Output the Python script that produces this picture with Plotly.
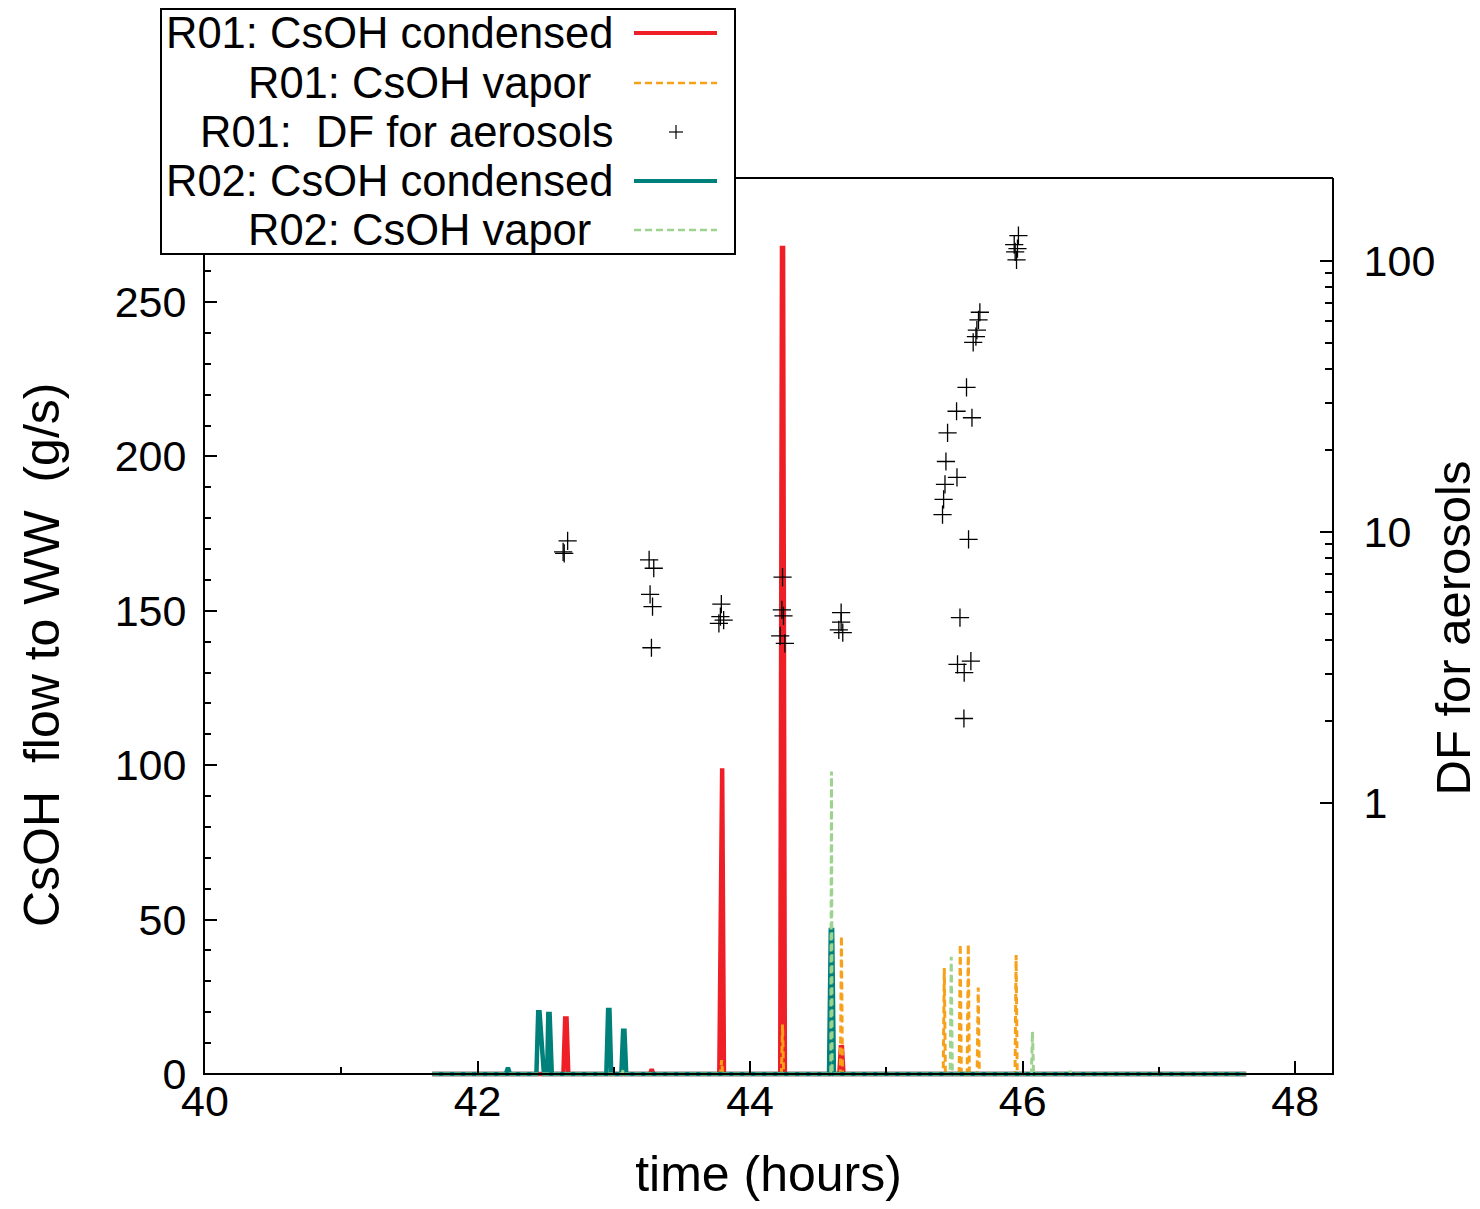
import plotly.graph_objects as go

# ---------------- data ----------------
# R01: CsOH condensed flow to WW (g/s)
r01_cond_t = [41.667, 42.630, 42.643, 42.653, 42.666, 43.266, 43.278, 43.290,
              43.774, 43.787, 43.795, 43.808, 44.221, 44.234, 44.242, 44.255,
              44.655, 44.666, 44.674, 44.685, 47.640]
r01_cond_v = [0, 0, 18, 18, 0, 0, 1.5, 0,
              0, 99, 99, 0, 0, 267.5, 267.5, 0,
              0, 8.7, 8.7, 0, 0]

# R01: CsOH vapor flow to WW (g/s)
r01_vap_t = [41.667, 43.783, 43.791, 43.799, 44.230, 44.238, 44.246,
             44.662, 44.670, 44.678, 45.417, 45.425, 45.433, 45.534, 45.542, 45.550,
             45.593, 45.601, 45.609, 45.666, 45.674, 45.682, 45.944, 45.952, 45.960, 47.640]
r01_vap_v = [0, 0, 4.5, 0, 0, 16, 0,
             0, 44.7, 0, 0, 34.3, 0, 0, 42, 0,
             0, 42, 0, 0, 28, 0, 0, 38.5, 0, 0]

# R01: DF for aerosols (-)
df_t = [42.661, 42.636, 42.628, 43.259, 43.293, 43.266, 43.284, 43.276,
        43.789, 43.782, 43.806, 43.771, 44.238, 44.233, 44.245, 44.221, 44.255,
        44.668, 44.668, 44.651, 44.680,
        45.969, 45.938, 45.962, 45.945, 45.955,
        45.686, 45.676, 45.664, 45.657, 45.637,
        45.588, 45.515, 45.628, 45.449, 45.437, 45.518, 45.430, 45.420, 45.412,
        45.603, 45.540, 45.522, 45.620, 45.571, 45.569]
df_v = [9.27, 8.34, 8.45, 7.89, 7.35, 5.89, 5.30, 3.74,
        5.42, 4.87, 4.73, 4.60, 6.81, 5.16, 4.90, 4.14, 3.88,
        5.04, 4.65, 4.35, 4.25,
        124, 115, 111, 108, 101,
        64.7, 60.6, 55.6, 52.6, 50.1,
        34.2, 27.9, 26.4, 23.2, 18.2, 15.9, 15.0, 13.2, 11.6,
        9.40, 4.83, 3.25, 3.34, 3.03, 2.05]

# R02: CsOH condensed flow to WW (g/s)
r02_cond_t = [41.667, 42.208, 42.223, 42.238, 42.432, 42.445, 42.455, 42.487,
              42.511, 42.519, 42.529, 42.545, 42.945, 42.958, 42.968, 42.981,
              43.055, 43.068, 43.078, 43.091, 44.579, 44.592, 44.602, 44.615, 47.640]
r02_cond_v = [0, 0, 2, 0, 0, 20, 20, 0,
              0, 19.4, 19.4, 0, 0, 20.7, 20.7, 0,
              0, 14, 14, 0, 0, 46.6, 46.6, 0, 0]

# R02: CsOH vapor flow to WW (g/s)
r02_vap_t = [41.667, 43.060, 43.070, 43.080, 44.592, 44.597, 44.602,
             45.468, 45.476, 45.484, 46.064, 46.072, 46.080, 46.345, 46.350, 46.355, 47.640]
r02_vap_v = [0, 0, 1.5, 0, 0, 98, 0,
             0, 38, 0, 0, 13.7, 0, 0, 1, 0, 0]

x_tickvals = [40, 42, 44, 46, 48]
y_tickvals = [0, 50, 100, 150, 200, 250]
y2_tickvals = [1, 10, 100]
y2_minorvals = [2, 3, 4, 5, 6, 7, 8, 9, 20, 30, 40, 50, 60, 70, 80, 90]

legend_labels = ["R01: CsOH condensed", "R01: CsOH vapor", "R01:\u00a0 DF for aerosols",
                 "R02: CsOH condensed", "R02: CsOH vapor"]

RED = "#ee1f26"
ORANGE = "#f7a11a"
TEAL = "#00807a"
GREEN = "#9dd28f"
FONT = "Liberation Sans, Arial, sans-serif"

# ---------------- figure geometry ----------------
W, H = 1480, 1209
AXIS_Y = 1074          # pixel row of the x axis line (y = 0)
EXTRA = 4              # plot area extends a few px below the axis so the y=0 lines are not clipped
L, R, T, B = 205, 148, 178, H - AXIS_Y - EXTRA
PW, PH = W - L - R, H - T - B
Y_PER_PX = 250 / (1074 - 302)
Y2_DEC_PX = 271.0


def px(x):
    return (x - L) / PW


def py(y):
    return (H - B - y) / PH


y_lo = -EXTRA * Y_PER_PX
y_hi = (AXIS_Y - T) * Y_PER_PX
y2_lo = -1 - EXTRA / Y2_DEC_PX
y2_hi = -1 + (AXIS_Y - T) / Y2_DEC_PX

fig = go.Figure()
fig.add_trace(go.Scatter(x=r01_cond_t, y=r01_cond_v, mode="lines", name=legend_labels[0],
                         line=dict(color=RED, width=4.5), showlegend=False))
fig.add_trace(go.Scatter(x=r01_vap_t, y=r01_vap_v, mode="lines", name=legend_labels[1],
                         line=dict(color=ORANGE, width=3, dash="7px,4px"), showlegend=False))
fig.add_trace(go.Scatter(x=df_t, y=df_v, mode="markers", name=legend_labels[2], yaxis="y2",
                         marker=dict(symbol="cross-thin", size=13, color="black",
                                     line=dict(color="black", width=1.3)),
                         showlegend=False))
fig.add_trace(go.Scatter(x=r02_cond_t, y=r02_cond_v, mode="lines", name=legend_labels[3],
                         line=dict(color=TEAL, width=4.5), showlegend=False))
fig.add_trace(go.Scatter(x=r02_vap_t, y=r02_vap_v, mode="lines", name=legend_labels[4],
                         line=dict(color=GREEN, width=3, dash="7px,4px"), showlegend=False))

axis_common = dict(showline=True, linecolor="black", linewidth=2, showgrid=False,
                   zeroline=False, ticks="inside", ticklen=12, tickwidth=2,
                   tickcolor="black", automargin=False,
                   tickfont=dict(family=FONT, size=43, color="black"))

fig.update_layout(
    width=W, height=H,
    margin=dict(l=L, r=R, t=T, b=B, pad=0),
    paper_bgcolor="white", plot_bgcolor="white",
    font=dict(family=FONT, color="black"),
    xaxis=dict(range=[40, 48.27], tickvals=x_tickvals,
               anchor="free", position=EXTRA / PH,
               minor=dict(dtick=1, tick0=40, ticks="inside", ticklen=6, tickwidth=2,
                          tickcolor="black"),
               ticklabelstandoff=-11,
               title=dict(text="time (hours)", font=dict(family=FONT, size=50), standoff=31),
               **axis_common),
    yaxis=dict(range=[y_lo, y_hi], tickvals=y_tickvals,
               minor=dict(dtick=10, tick0=0, ticks="inside", ticklen=6, tickwidth=2,
                          tickcolor="black"),
               ticklabelstandoff=8,
               **axis_common),
    yaxis2=dict(overlaying="y", side="right", type="log", range=[y2_lo, y2_hi],
                tickvals=y2_tickvals, ticktext=["1", "10", "100"],
                minor=dict(tickvals=y2_minorvals, ticks="inside", ticklen=7, tickwidth=1.5,
                           tickcolor="black"),
                ticklabelstandoff=21,
                title=dict(text="DF for aerosols", font=dict(family=FONT, size=49), standoff=17),
                **axis_common),
)

shapes = [
    # top border of the frame
    dict(type="line", xref="paper", yref="paper", x0=px(204), x1=px(1333),
         y0=py(T), y1=py(T), line=dict(color="black", width=2), layer="above"),
    # hide the short stubs of the y axis lines below the x axis line
    dict(type="rect", xref="paper", yref="paper", x0=px(199), x1=px(211),
         y0=py(AXIS_Y + EXTRA + 2), y1=py(AXIS_Y + 1.05), line=dict(width=0),
         fillcolor="white", layer="above"),
    dict(type="rect", xref="paper", yref="paper", x0=px(1326), x1=px(1338),
         y0=py(AXIS_Y + EXTRA + 2), y1=py(AXIS_Y + 1.05), line=dict(width=0),
         fillcolor="white", layer="above"),
    # gnuplot-style key box
    dict(type="rect", xref="paper", yref="paper",
         x0=px(161), x1=px(735), y0=py(254), y1=py(9),
         line=dict(color="black", width=2), fillcolor="white", layer="above"),
]
rows_y = [33, 83, 132, 181, 230]
text_right = [615, 593, 615, 615, 593]
annotations = [dict(xref="paper", yref="paper", x=px(42), y=py(655),
                    text="CsOH\u00a0 flow to WW\u00a0 (g/s)", textangle=-90,
                    showarrow=False, xanchor="center", yanchor="middle",
                    font=dict(family=FONT, size=50, color="black"))]
for lab, yy, xr in zip(legend_labels, rows_y, text_right):
    annotations.append(dict(xref="paper", yref="paper", x=px(xr), y=py(yy), text=lab,
                            showarrow=False, xanchor="right", yanchor="middle",
                            font=dict(family=FONT, size=43.5, color="black")))
samples = [(RED, 4, "solid"), (ORANGE, 2.5, "7px,4px"), None, (TEAL, 4, "solid"),
           (GREEN, 2.5, "7px,4px")]
for s, yy in zip(samples, rows_y):
    if s is None:
        shapes.append(dict(type="line", xref="paper", yref="paper", x0=px(669), x1=px(683),
                           y0=py(yy), y1=py(yy), line=dict(color="black", width=1.2), layer="above"))
        shapes.append(dict(type="line", xref="paper", yref="paper", x0=px(676), x1=px(676),
                           y0=py(yy - 7), y1=py(yy + 7), line=dict(color="black", width=1.2),
                           layer="above"))
    else:
        c, w, d = s
        shapes.append(dict(type="line", xref="paper", yref="paper", x0=px(634), x1=px(717),
                           y0=py(yy), y1=py(yy), line=dict(color=c, width=w, dash=d),
                           layer="above"))

fig.update_layout(shapes=shapes, annotations=annotations)
fig.write_html("out.html")
